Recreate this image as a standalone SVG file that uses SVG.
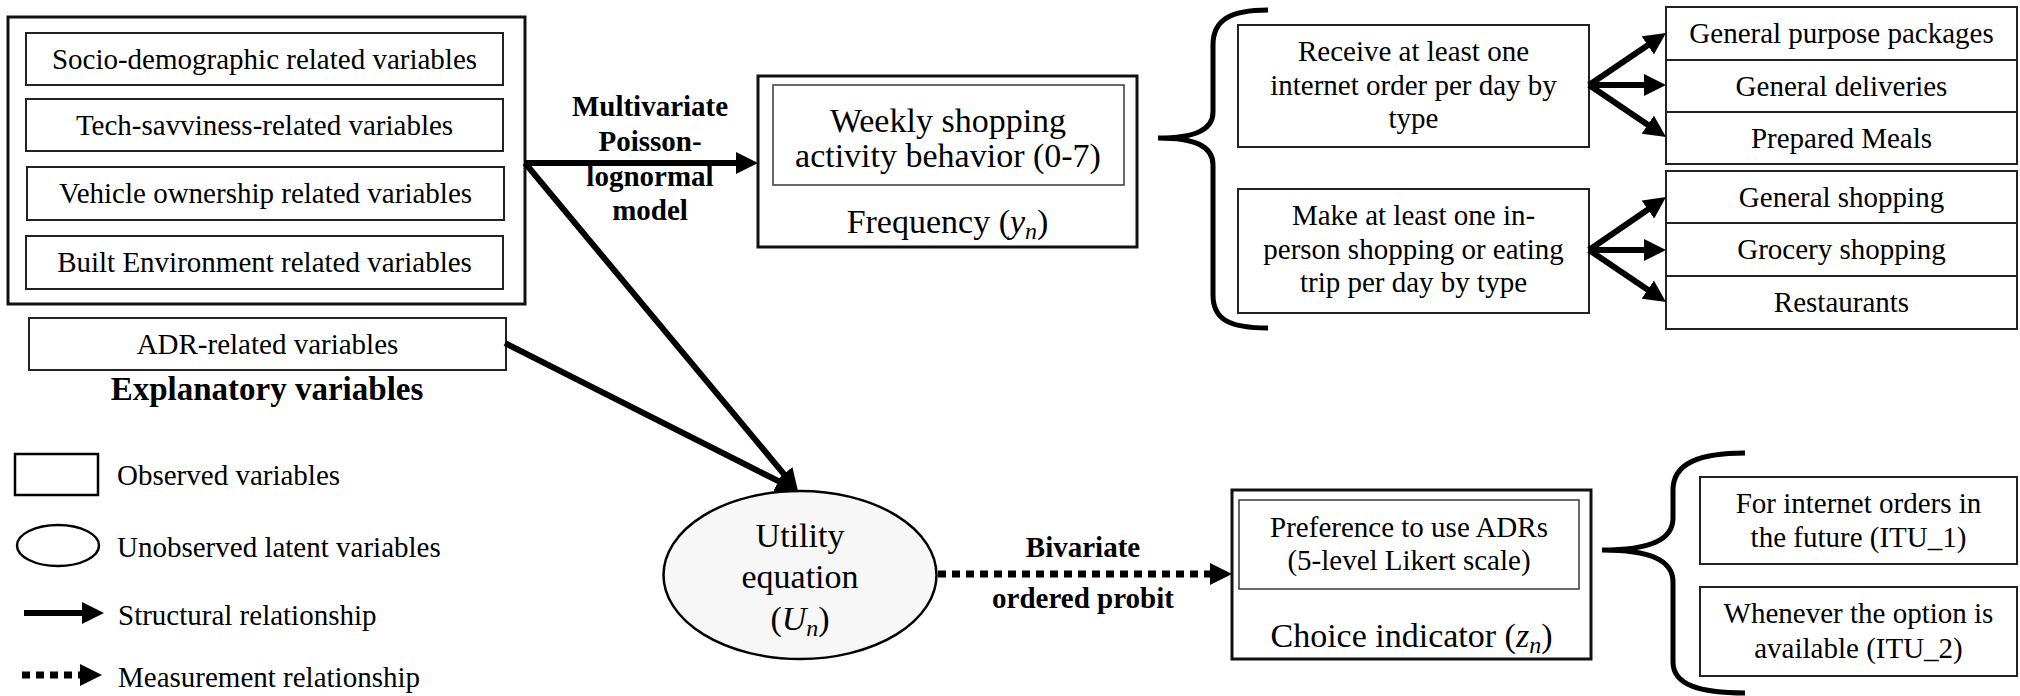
<svg xmlns="http://www.w3.org/2000/svg" width="2020" height="696" viewBox="0 0 2020 696">
<style>
  text { font-family: "Liberation Serif", "Times New Roman", serif; fill: #000; }
  .t29 { font-size: 29px; text-anchor: middle; }
  .t34 { font-size: 34px; text-anchor: middle; }
  .lbl { font-size: 29px; font-weight: bold; text-anchor: middle; }
  .leg { font-size: 29px; }
  .box { fill: #fff; stroke: #222; stroke-width: 2; }
  .outer { fill: none; stroke: #111; stroke-width: 3; }
  .inner { fill: none; stroke: #444; stroke-width: 1.6; }
  .arr { fill: none; stroke: #000; stroke-width: 6; marker-end: url(#ah); }
  .dot { fill: none; stroke: #000; stroke-width: 7; stroke-dasharray: 8 6; marker-end: url(#ah); }
  .brace { fill: none; stroke: #000; stroke-width: 5; }
  .it { font-style: italic; }
</style>
<defs>
  <marker id="ah" markerUnits="userSpaceOnUse" viewBox="0 0 22 22" markerWidth="22" markerHeight="22" refX="12" refY="11" orient="auto">
    <path d="M0,0 L22,11 L0,22 z" fill="#000"/>
  </marker>
</defs>
<rect width="2020" height="696" fill="#fff"/>

<g id="explanatory">
  <rect class="outer" x="8" y="17" width="517" height="287"/>
  <g id="socio"><rect class="box" x="26" y="33" width="477" height="52"/><text class="t29" x="264.5" y="68.5">Socio-demographic related variables</text></g>
  <g id="tech"><rect class="box" x="26" y="99" width="477" height="52"/><text class="t29" x="264.5" y="134.5">Tech-savviness-related variables</text></g>
  <g id="vehicle"><rect class="box" x="27" y="167" width="477" height="53"/><text class="t29" x="265.5" y="203">Vehicle ownership related variables</text></g>
  <g id="built"><rect class="box" x="26" y="236" width="477" height="53"/><text class="t29" x="264.5" y="272">Built Environment related variables</text></g>
</g>
<g id="adr"><rect class="box" x="29" y="318" width="477" height="52"/><text class="t29" x="267.5" y="353.5">ADR-related variables</text></g>
<g id="explanatory-label"><text x="267" y="400" style="font-size:33px;font-weight:bold;text-anchor:middle">Explanatory variables</text></g>

<g id="frequency">
  <rect class="outer" x="758" y="76" width="379" height="171" fill="#fff"/>
  <rect class="inner" x="773" y="85" width="351" height="100"/>
  <text class="t34" x="948" y="132">Weekly shopping</text>
  <text class="t34" x="948" y="167">activity behavior (0-7)</text>
  <text class="t34" x="947.5" y="233">Frequency (<tspan class="it">y</tspan><tspan class="it" font-size="24" dy="6">n</tspan><tspan dy="-6">)</tspan></text>
</g>

<g id="brace-top"><path class="brace" d="M1268,10 C1230,10 1213,20 1213,45 L1213,112 C1213,130 1195,138 1158,138 C1195,138 1213,146 1213,165 L1213,295 C1213,320 1230,328 1268,328"/></g>

<g id="receive"><rect class="box" x="1238" y="25" width="351" height="122"/>
  <text class="t29" x="1413.5" y="61">Receive at least one</text>
  <text class="t29" x="1413.5" y="94.5">internet order per day by</text>
  <text class="t29" x="1413.5" y="128">type</text></g>
<g id="make"><rect class="box" x="1238" y="189" width="351" height="124"/>
  <text class="t29" x="1413.5" y="225">Make at least one in-</text>
  <text class="t29" x="1413.5" y="258.5">person shopping or eating</text>
  <text class="t29" x="1413.5" y="292">trip per day by type</text></g>

<g id="gpp"><rect class="box" x="1666" y="7" width="351" height="53"/><text class="t29" x="1841.5" y="43">General purpose packages</text></g>
<g id="gdel"><rect class="box" x="1666" y="60" width="351" height="52"/><text class="t29" x="1841.5" y="95.5">General deliveries</text></g>
<g id="meals"><rect class="box" x="1666" y="112" width="351" height="52"/><text class="t29" x="1841.5" y="147.5">Prepared Meals</text></g>
<g id="gshop"><rect class="box" x="1666" y="171" width="351" height="52"/><text class="t29" x="1841.5" y="206.5">General shopping</text></g>
<g id="grocery"><rect class="box" x="1666" y="223" width="351" height="53"/><text class="t29" x="1841.5" y="259">Grocery shopping</text></g>
<g id="rest"><rect class="box" x="1666" y="276" width="351" height="53"/><text class="t29" x="1841.5" y="312">Restaurants</text></g>

<g id="utility">
  <ellipse cx="800" cy="575" rx="136.5" ry="84" fill="#f7f7f7" stroke="#000" stroke-width="2.5"/>
  <text class="t34" x="800" y="547">Utility</text>
  <text class="t34" x="800" y="588">equation</text>
  <text class="t34" x="800" y="630">(<tspan class="it">U</tspan><tspan class="it" font-size="24" dy="6">n</tspan><tspan dy="-6">)</tspan></text>
</g>

<g id="choice">
  <rect class="outer" x="1232" y="490" width="359" height="169" fill="#fff"/>
  <rect class="inner" x="1239" y="500" width="340" height="89"/>
  <text class="t29" x="1409" y="537">Preference to use ADRs</text>
  <text class="t29" x="1409" y="570">(5-level Likert scale)</text>
  <text class="t34" x="1411.5" y="647">Choice indicator (<tspan class="it">z</tspan><tspan class="it" font-size="24" dy="6">n</tspan><tspan dy="-6">)</tspan></text>
</g>

<g id="brace-bottom"><path class="brace" d="M1745,453 C1700,453 1673,463 1673,490 L1673,518 C1673,540 1650,550 1602,550 C1650,550 1673,560 1673,582 L1673,662 C1673,685 1700,693 1745,693"/></g>

<g id="itu1"><rect class="box" x="1700" y="477" width="317" height="87"/>
  <text class="t29" x="1858.5" y="513">For internet orders in</text>
  <text class="t29" x="1858.5" y="547">the future (ITU_1)</text></g>
<g id="itu2"><rect class="box" x="1700" y="587" width="317" height="89"/>
  <text class="t29" x="1858.5" y="623">Whenever the option is</text>
  <text class="t29" x="1858.5" y="658">available (ITU_2)</text></g>

<g id="connectors">
  <line class="arr" x1="525" y1="163" x2="748" y2="163"/>
  <line class="arr" x1="525" y1="163" x2="791.6" y2="483.3"/>
  <line class="arr" x1="505" y1="343" x2="789.1" y2="486.5"/>
  <line class="dot" x1="938" y1="574" x2="1222" y2="574"/>
  <line class="arr" x1="1589" y1="85" x2="1657.7" y2="38.6"/>
  <line class="arr" x1="1589" y1="85" x2="1656" y2="85"/>
  <line class="arr" x1="1589" y1="85" x2="1657.7" y2="131.4"/>
  <line class="arr" x1="1589" y1="250" x2="1657.8" y2="202.7"/>
  <line class="arr" x1="1589" y1="250" x2="1656" y2="250"/>
  <line class="arr" x1="1589" y1="250" x2="1657.7" y2="296.4"/>
</g>
<g id="connector-labels">
  <text class="lbl" x="650" y="116">Multivariate</text>
  <text class="lbl" x="650" y="151">Poisson-</text>
  <text class="lbl" x="650" y="186">lognormal</text>
  <text class="lbl" x="650" y="220">model</text>
  <text class="lbl" x="1083" y="557">Bivariate</text>
  <text class="lbl" x="1083" y="608">ordered probit</text>
</g>

<g id="legend">
  <rect x="15" y="454" width="83" height="41" fill="#fff" stroke="#000" stroke-width="2.5"/>
  <text class="leg" x="117" y="485">Observed variables</text>
  <ellipse cx="58" cy="545.5" rx="41" ry="20.5" fill="#fff" stroke="#000" stroke-width="2.5"/>
  <text class="leg" x="117" y="557">Unobserved latent variables</text>
  <line class="arr" x1="24" y1="613" x2="94" y2="613"/>
  <text class="leg" x="118" y="625">Structural relationship</text>
  <line class="dot" x1="22" y1="675" x2="92" y2="675"/>
  <text class="leg" x="118" y="687">Measurement relationship</text>
</g>
</svg>
